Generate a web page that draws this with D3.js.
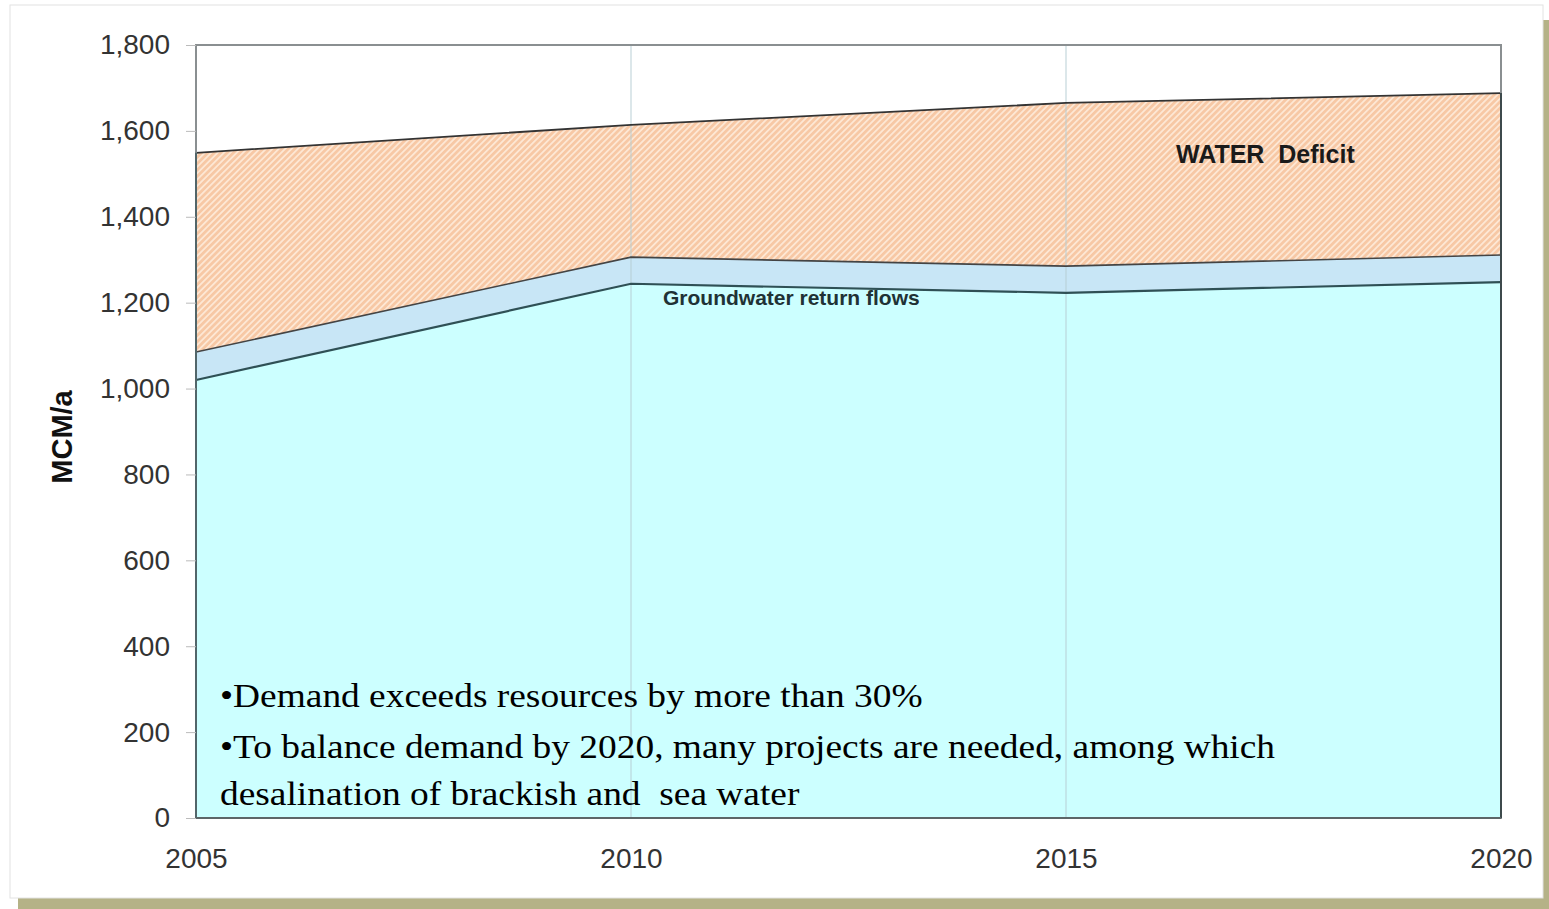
<!DOCTYPE html>
<html><head><meta charset="utf-8">
<script src="https://cdn.jsdelivr.net/npm/d3@7"></script>
<style>body{margin:0;background:#fff;}svg{display:block;}</style>
</head><body>
<svg id="c" width="1549" height="909"></svg>
<script>
const years = [2005, 2010, 2015, 2020];
const resources = [1020, 1244, 1223, 1248];
const groundwaterReturn = [65, 62, 62, 63];
const demand = [1549, 1614, 1665, 1688];
const yTicks = [0, 200, 400, 600, 800, 1000, 1200, 1400, 1600, 1800];
const notes = ["\u2022Demand exceeds resources by more than 30%", "\u2022To balance demand by 2020, many projects are needed, among which", "desalination of brackish and  sea water"];

const svg = d3.select("#c");
const defs = svg.append("defs");
const pat = defs.append("pattern").attr("id","hatch").attr("patternUnits","userSpaceOnUse")
  .attr("width",4.5).attr("height",4.5).attr("patternTransform","rotate(-45)");
pat.append("rect").attr("width",4.5).attr("height",4.5).attr("fill","#f7c8a5");
pat.append("rect").attr("width",4.5).attr("height",1.8).attr("fill","#fde7d4");

// frame with shadow
svg.append("rect").attr("x",18).attr("y",20).attr("width",1531).attr("height",889).attr("fill","#b5b287");
svg.append("rect").attr("x",10).attr("y",5).attr("width",1533).attr("height",893).attr("fill","#fff").attr("stroke","#e2e2e2");

const L=196, R=1501, T=45, B=818;
const x = d3.scaleLinear().domain([2005,2020]).range([L,R]);
const y = d3.scaleLinear().domain([0,1800]).range([B,T]);

const upper = resources.map((r,i)=>r+groundwaterReturn[i]);
const pts = years.map((yr,i)=>({yr, r:resources[i], u:upper[i], d:demand[i]}));

const area = (lo,hi)=>d3.area().x(d=>x(d.yr)).y0(d=>y(lo(d))).y1(d=>y(hi(d)));
svg.append("path").datum(pts).attr("d",area(d=>0,d=>d.r)).attr("fill","#ccffff");
svg.append("path").datum(pts).attr("d",area(d=>d.r,d=>d.u)).attr("fill","#c8e6f6");
svg.append("path").datum(pts).attr("d",area(d=>d.u,d=>d.d)).attr("fill","url(#hatch)");

// vertical grid
svg.append("g").selectAll("line").data([2010,2015]).join("line")
  .attr("x1",d=>x(d)).attr("x2",d=>x(d)).attr("y1",T).attr("y2",B)
  .attr("stroke","#b8cfd4").attr("stroke-width",1.2).attr("opacity",0.8);

const line = f=>d3.line().x(d=>x(d.yr)).y(d=>y(f(d)));
svg.append("path").datum(pts).attr("d",line(d=>d.r)).attr("fill","none").attr("stroke","#2f5055").attr("stroke-width",2.2);
svg.append("path").datum(pts).attr("d",line(d=>d.u)).attr("fill","none").attr("stroke","#444").attr("stroke-width",1.6);
svg.append("path").datum(pts).attr("d",line(d=>d.d)).attr("fill","none").attr("stroke","#333").attr("stroke-width",1.8);

// plot frame
svg.append("rect").attr("x",L).attr("y",T).attr("width",R-L).attr("height",B-T)
  .attr("fill","none").attr("stroke","#8a8f91").attr("stroke-width",2);
svg.append("line").attr("x1",L).attr("x2",L).attr("y1",y(demand[0])).attr("y2",B).attr("stroke","#52666a").attr("stroke-width",2);
svg.append("line").attr("x1",R).attr("x2",R).attr("y1",y(demand[3])).attr("y2",B).attr("stroke","#3d4a4c").attr("stroke-width",2);
svg.append("line").attr("x1",L).attr("x2",R).attr("y1",B).attr("y2",B).attr("stroke","#5c6668").attr("stroke-width",2);

const sans = "Liberation Sans, Arial, Helvetica, sans-serif";
// y axis
const ya = svg.append("g").attr("transform",`translate(${L},0)`)
  .call(d3.axisLeft(y).tickValues(yTicks).tickSize(10).tickPadding(16).tickFormat(d3.format(",")));
ya.select(".domain").remove();
ya.selectAll("line").attr("stroke","#bbb");
ya.selectAll("text").attr("font-family",sans).attr("font-size",28).attr("fill","#333");

// x axis
const xa = svg.append("g").attr("transform",`translate(0,${B})`)
  .call(d3.axisBottom(x).tickValues(years).tickSize(0).tickPadding(30).tickFormat(d3.format("d")));
xa.select(".domain").remove();
xa.selectAll("text").attr("font-family",sans).attr("font-size",28).attr("fill","#333");

svg.append("text").attr("transform","translate(72,437) rotate(-90)").attr("text-anchor","middle")
  .attr("font-family",sans).attr("font-weight","bold").attr("font-size",29).attr("fill","#111").text("MCM/a");

svg.append("text").attr("x",1176).attr("y",163).attr("font-family",sans)
  .attr("font-weight","bold").attr("font-size",25).attr("fill","#1a1a1a").attr("xml:space","preserve").text("WATER  Deficit");
svg.append("text").attr("x",663).attr("y",305).attr("font-family",sans)
  .attr("font-weight","bold").attr("font-size",21).attr("fill","#1f3235").text("Groundwater return flows");

const ny=[707,758,805];
svg.append("g").attr("transform","translate(220,0) scale(1.1,1)").selectAll("text").data(notes).join("text")
  .attr("x",0).attr("y",(d,i)=>ny[i]).attr("font-family","Liberation Serif, Times New Roman, serif")
  .attr("font-size",34).attr("fill","#000").attr("xml:space","preserve").text(d=>d);
</script>
</body></html>
